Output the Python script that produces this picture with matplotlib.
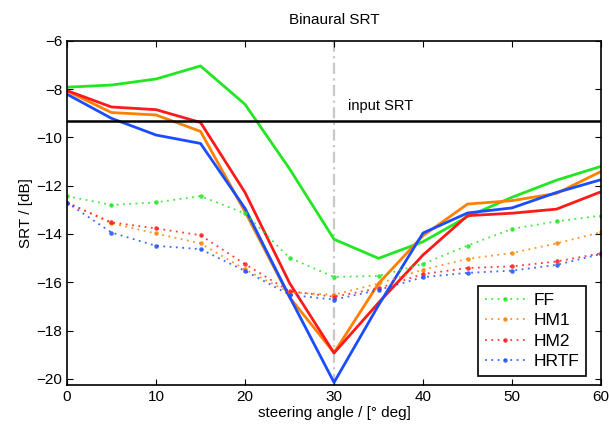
import numpy as np
import matplotlib
matplotlib.use('Agg')
import matplotlib.pyplot as plt

plt.rcParams['font.family'] = ['Liberation Sans', 'DejaVu Sans']

angles = [0, 5, 10, 15, 20, 25, 30, 35, 40, 45, 50, 55, 60]

# solid lines
ff_solid = [-7.92, -7.83, -7.58, -7.04, -8.63, -11.3, -14.22, -15.01, -14.32, -13.28, -12.48, -11.77, -11.2]
hm1_solid = [-8.08, -8.97, -9.07, -9.75, -13.08, -16.62, -18.92, -16.05, -14.07, -12.76, -12.62, -12.32, -11.41]
hm2_solid = [-8.06, -8.74, -8.85, -9.38, -12.28, -16.03, -18.93, -16.85, -14.87, -13.24, -13.14, -12.97, -12.25]
hrtf_solid = [-8.21, -9.21, -9.9, -10.25, -12.94, -16.6, -20.15, -16.95, -13.96, -13.13, -12.92, -12.28, -11.75]

# dotted lines
ff_dot = [-12.43, -12.8, -12.69, -12.43, -13.15, -14.99, -15.78, -15.74, -15.24, -14.48, -13.79, -13.48, -13.24]
hm1_dot = [-12.7, -13.56, -13.98, -14.39, -15.47, -16.42, -16.52, -16.05, -15.48, -15.03, -14.79, -14.39, -13.93]
hm2_dot = [-12.7, -13.52, -13.77, -14.05, -15.25, -16.37, -16.6, -16.25, -15.66, -15.41, -15.34, -15.14, -14.8]
hrtf_dot = [-12.7, -13.94, -14.49, -14.63, -15.53, -16.52, -16.72, -16.32, -15.79, -15.61, -15.52, -15.28, -14.83]

input_srt = -9.3

names = ['FF', 'HM1', 'HM2', 'HRTF']
colors = ['#22e622', '#ff8000', '#ff1a1a', '#1a4dff']

fig = plt.figure(figsize=(6.09, 4.30), dpi=100)
ax = fig.add_axes([0.110, 0.105, 0.877, 0.800])

for s, c in zip([ff_solid, hm1_solid, hm2_solid, hrtf_solid], colors):
    ax.plot(angles, s, '-', color=c, lw=2)
for s, c, n in zip([ff_dot, hm1_dot, hm2_dot, hrtf_dot], colors, names):
    ax.plot(angles, s, color=c, lw=1.3, ls=(0, (1, 2.5)), alpha=0.85,
            marker='.', ms=6.5, markeredgewidth=0, label=n)

ax.axhline(input_srt, color='black', lw=1.8)
ax.axvline(30, color='#c8c8c8', lw=1.6, ls=(0, (5, 2, 1, 2)), zorder=0)
ax.text(31.6, input_srt + 0.3, 'input SRT', fontsize=10.5, va='bottom')

ax.set_xlim(0, 60)
ax.set_ylim(-20.25, -6)
ax.set_xticks(range(0, 61, 10))
ax.set_yticks(range(-20, -5, 2))
ax.set_yticklabels(['\u2212%d' % -v for v in range(-20, -5, 2)])
ax.tick_params(direction='in', top=True, right=True, labelsize=11, length=4)
for sp in ax.spines.values():
    sp.set_linewidth(1.2)

ax.set_title('Binaural SRT', fontsize=11, pad=12)
ax.set_xlabel('steering angle / [\u00b0 deg]', fontsize=11, labelpad=2)
ax.set_ylabel('SRT / [dB]', fontsize=11, labelpad=2)

leg = ax.legend(loc='lower right', bbox_to_anchor=(0.972, 0.026), borderaxespad=0,
                fontsize=12.5, fancybox=False, edgecolor='black', framealpha=1,
                handlelength=2.3, labelspacing=0.3, handletextpad=0.5)
leg.get_frame().set_linewidth(1.2)

fig.savefig('out.png', dpi=100)
